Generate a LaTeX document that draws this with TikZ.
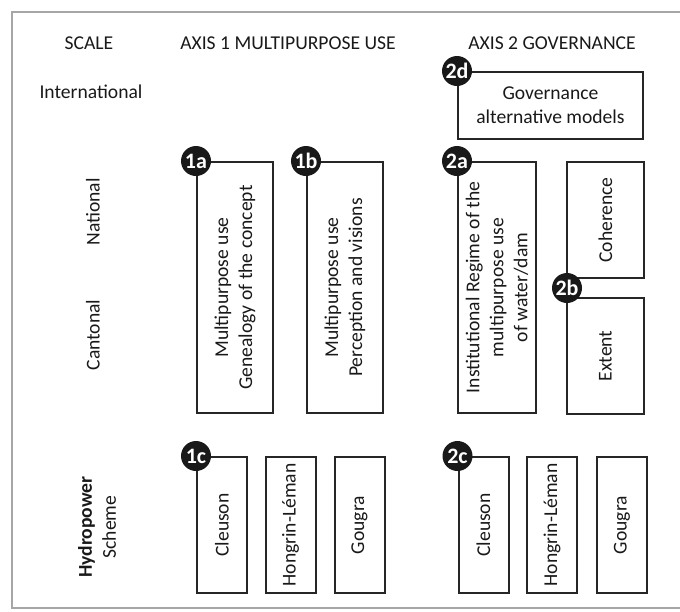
\documentclass[tikz,border=0pt]{standalone}
\usepackage{fontspec}
\setmainfont{Carlito}
\usepackage{tikz}
\usetikzlibrary{positioning}

\begin{document}
\begin{tikzpicture}[
    x=0.5pt, y=-0.5pt,
    every node/.style={font=\fontsize{9.8}{12}\selectfont, text=black!90},
    box/.style={draw=black!85, line width=1pt, rotate=90, align=center, inner sep=2pt},
    flatbox/.style={draw=black!85, line width=1pt, align=center, inner sep=2pt},
    tag/.style={circle, fill=black!90, text=white, minimum size=15pt, inner sep=0pt, font=\fontsize{11}{11}\selectfont\bfseries},
    scalelbl/.style={rotate=90, align=center},
  ]
  \useasboundingbox (0,0) rectangle (680,611);
  \draw[black!35, line width=0.6pt] (680,12) -- (12,12) -- (12,608) -- (680,608);

  % headings
  \node (scale) at (89,43) {SCALE};
  \node (axis1) at (288,43) {AXIS 1 MULTIPURPOSE USE};
  \node (axis2) at (552,43) {AXIS 2 GOVERNANCE};

  % scales
  \node (intl) at (91,92) {International};
  \node[scalelbl] (natl) at (93,212) {National};
  \node[scalelbl] (cant) at (93,335) {Cantonal};
  \node[scalelbl] (hydro) at (97,527) {\textbf{Hydropower}\\Scheme};

  % axis 1
  \node[box, minimum width=125.5pt, minimum height=38pt] (b1a) at (235,287.5) {Multipurpose use\\Genealogy of the concept};
  \node[box, minimum width=125.5pt, minimum height=38pt] (b1b) at (345,287.5) {Multipurpose use\\Perception and visions};
  \node[box, minimum width=68pt, minimum height=25pt] (c1) at (222,525) {Cleuson};
  \node[box, minimum width=68pt, minimum height=25pt] (h1) at (290.5,525) {Hongrin-Léman};
  \node[box, minimum width=68pt, minimum height=25pt] (g1) at (359.5,525) {Gougra};

  % axis 2
  \node[flatbox, minimum width=92.5pt, minimum height=33.5pt] (b2d) at (550.5,105.5) {Governance\\alternative models};
  \node[box, minimum width=125.5pt, minimum height=39pt] (b2a) at (497,287.5) {Institutional Regime of the\\multipurpose use\\of water/dam};
  \node[box, minimum width=58pt, minimum height=38.5pt] (bcoh) at (605.5,220) {Coherence};
  \node[box, minimum width=58pt, minimum height=38.5pt] (bext) at (605.5,356) {Extent};
  \node[box, minimum width=68pt, minimum height=25pt] (c2) at (483.5,525) {Cleuson};
  \node[box, minimum width=68pt, minimum height=25pt] (h2) at (552,525) {Hongrin-Léman};
  \node[box, minimum width=68pt, minimum height=25pt] (g2) at (622,525) {Gougra};

  % numbered tags (rotated boxes: north east = top left corner)
  \node[tag] (t1a) at (b1a.north east) {1a};
  \node[tag] (t1b) at (b1b.north east) {1b};
  \node[tag] (t1c) at (c1.north east) {1c};
  \node[tag] (t2a) at (b2a.north east) {2a};
  \node[tag] (t2b) at (567,288) {2b};
  \node[tag] (t2c) at (c2.north east) {2c};
  \node[tag] (t2d) at (b2d.north west) {2d};
\end{tikzpicture}
\end{document}
